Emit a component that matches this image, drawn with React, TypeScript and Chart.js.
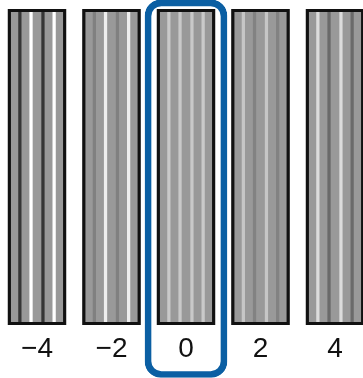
import { useEffect, useRef } from "react";
import { Chart, registerables } from "chart.js";

Chart.register(...registerables);

// Pattern numbers shown under each pattern panel
const panelPositions = [-4, -2, 0, 2, 4];
const tickLabels = ["\u22124", "\u22122", "0", "2", "4"];
// Offsets of the four vertical lines inside each panel (axis units)
const stripeOffsets = [-0.46, -0.16, 0.16, 0.46];
// Colour of each line, per panel (-4, -2, 0, 2, 4)
const stripe1Colors = ["#363636", "#808080", "#c9c9c9", "#c6c6c6", "#dcdcdc"];
const stripe2Colors = ["#ffffff", "#eeeeee", "#c9c9c9", "#828282", "#6a6a6a"];
const stripe3Colors = ["#363636", "#808080", "#c9c9c9", "#c6c6c6", "#dcdcdc"];
const stripe4Colors = ["#ffffff", "#eeeeee", "#c9c9c9", "#828282", "#6a6a6a"];
const stripeColorSets = [stripe1Colors, stripe2Colors, stripe3Colors, stripe4Colors];
// Panel value range
const panelLow = 0;
const panelHigh = 1;
// Selected pattern and its highlight frame range
const selectedPosition = 0;
const highlightRange = [-0.166, 1.029];

export default function App() {
  const ref = useRef<HTMLCanvasElement | null>(null);

  useEffect(() => {
    if (!ref.current) return;
    const panelData = panelPositions.map((p) => ({ x: p, y: [panelLow, panelHigh] }));
    const stripeDatasets = stripeOffsets.map((off, k) => ({
      type: "bar" as const,
      data: panelPositions.map((p) => ({ x: p + off, y: [panelLow, panelHigh] })),
      backgroundColor: stripeColorSets[k],
      borderWidth: 0,
      barThickness: 2.6,
      grouped: false,
    }));

    const chart = new Chart(ref.current, {
      type: "bar",
      data: {
        datasets: [
          {
            data: [{ x: selectedPosition, y: highlightRange }],
            backgroundColor: "rgba(0,0,0,0)",
            borderColor: "#0b5fa3",
            borderWidth: 6,
            borderRadius: 16,
            borderSkipped: false,
            barThickness: 82,
            grouped: false,
            clip: false,
          } as any,
          {
            data: panelData,
            backgroundColor: "rgba(0,0,0,0)",
            borderColor: "#111111",
            borderWidth: 2.6,
            borderSkipped: false,
            barThickness: 58,
            grouped: false,
          } as any,
          ...(stripeDatasets as any[]),
          {
            data: panelData,
            backgroundColor: "#999999",
            borderWidth: 0,
            barThickness: 58,
            grouped: false,
          } as any,
        ],
      },
      options: {
        animation: false,
        responsive: true,
        maintainAspectRatio: false,
        layout: { padding: { top: 9, left: 0, right: 0, bottom: 0 } },
        plugins: { legend: { display: false }, tooltip: { enabled: false } },
        scales: {
          x: {
            type: "linear",
            offset: false,
            min: -4.9933,
            max: 4.7517,
            grid: { display: false },
            border: { display: false },
            afterBuildTicks: (axis: any) => {
              axis.ticks = panelPositions.map((v) => ({ value: v }));
            },
            afterFit: (axis: any) => {
              axis.height = 53;
            },
            ticks: {
              padding: -1,
              autoSkip: false,
              maxRotation: 0,
              color: "#111111",
              font: { family: "'Liberation Sans', Arial, sans-serif", size: 28 },
              callback: (value: any) => {
                const i = panelPositions.indexOf(Number(value));
                return i >= 0 ? tickLabels[i] : "";
              },
            },
          },
          y: {
            display: false,
            min: panelLow,
            max: panelHigh,
          },
        },
      },
    });
    return () => chart.destroy();
  }, []);

  return (
    <div style={{ position: "absolute", left: 0, top: 0, width: 363, height: 378 }}>
      <canvas ref={ref} />
    </div>
  );
}
